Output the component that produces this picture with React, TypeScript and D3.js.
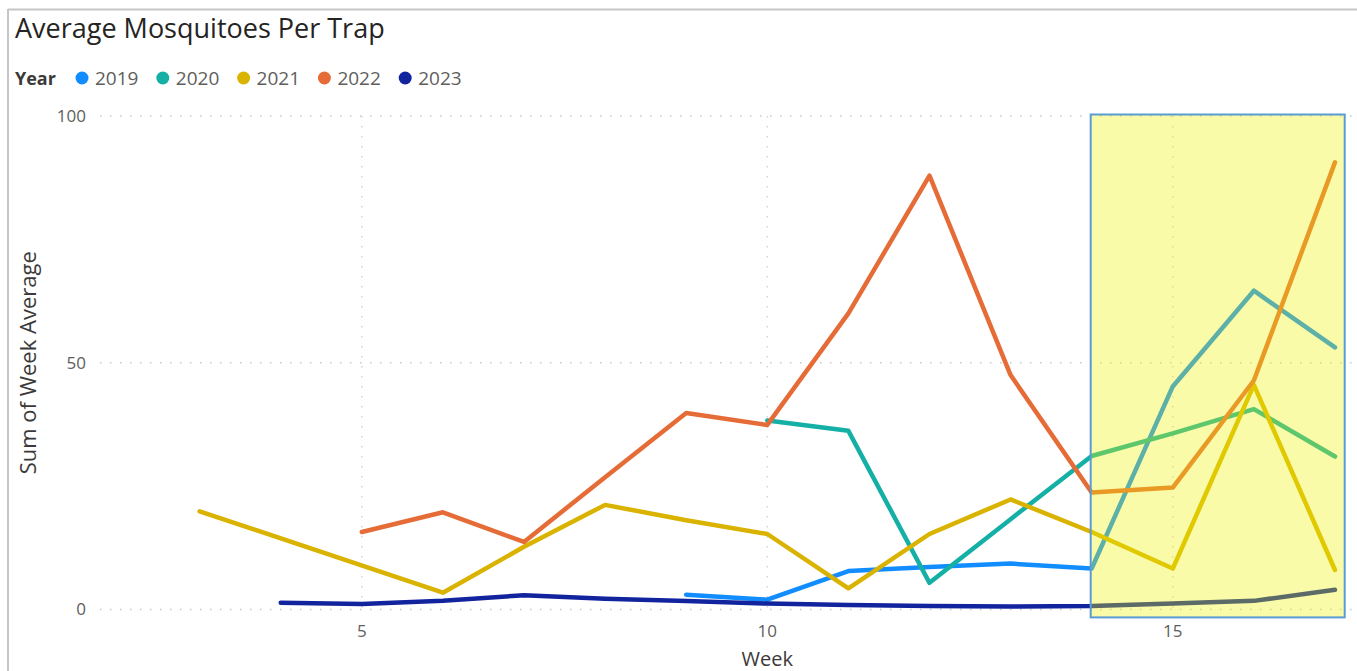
import React, { useEffect, useRef } from 'react';
import * as d3 from 'd3';

const years = ['2019', '2020', '2021', '2022', '2023'];
const colors = ['#118DFF', '#15B0A5', '#D9B300', '#E66C37', '#12239E'];

const weeks2019 = [9, 10, 11, 12, 13, 14, 15, 16, 17];
const values2019 = [3.0, 2.0, 7.8, 8.6, 9.3, 8.3, 45.2, 64.6, 53.1];

const weeks2020 = [10, 11, 12, 13, 14, 15, 16, 17];
const values2020 = [38.3, 36.2, 5.4, 18.3, 31.1, 35.7, 40.6, 31.0];

const weeks2021 = [3, 6, 7, 8, 9, 10, 11, 12, 13, 14, 15, 16, 17];
const values2021 = [19.9, 3.4, 12.7, 21.2, 18.1, 15.3, 4.3, 15.3, 22.3, 15.7, 8.3, 45.5, 8.0];

const weeks2022 = [5, 6, 7, 8, 9, 10, 11, 12, 13, 14, 15, 16, 17];
const values2022 = [15.7, 19.7, 13.7, 26.8, 39.8, 37.4, 60.0, 87.9, 47.5, 23.7, 24.7, 46.4, 90.6];

const weeks2023 = [4, 5, 6, 7, 8, 9, 10, 11, 12, 13, 14, 15, 16, 17];
const values2023 = [1.35, 1.1, 1.75, 2.9, 2.2, 1.7, 1.2, 0.9, 0.7, 0.6, 0.7, 1.2, 1.75, 4.0];

const xTicks = [5, 10, 15];
const yTicks = [0, 50, 100];

// highlighted week range (yellow box)
const highlightFrom = 14;
const highlightTo = 17.12;

const App: React.FC = () => {
  const ref = useRef<SVGSVGElement>(null);

  useEffect(() => {
    if (!ref.current) return;
    const width = 1357;
    const height = 671;
    const font = '"Open Sans", "Noto Sans", sans-serif';

    const svg = d3.select(ref.current);
    svg.selectAll('*').remove();

    svg.append('rect').attr('width', width).attr('height', height).attr('fill', '#fff');

    // visual border
    svg.append('line').attr('x1', 8).attr('x2', width).attr('y1', 9.5).attr('y2', 9.5)
      .attr('stroke', '#c8c6c4').attr('stroke-width', 2);
    svg.append('line').attr('x1', 8).attr('x2', 8).attr('y1', 9).attr('y2', height)
      .attr('stroke', '#c8c6c4').attr('stroke-width', 2);

    svg.append('text')
      .attr('x', 15).attr('y', 38)
      .attr('font-family', font).attr('font-size', 27)
      .attr('fill', '#252423')
      .text('Average Mosquitoes Per Trap');

    // legend
    svg.append('text')
      .attr('x', 15).attr('y', 85)
      .attr('font-family', font).attr('font-size', 18).attr('font-weight', 'bold')
      .attr('fill', '#3b3a39')
      .text('Year');
    const legend = svg.append('g');
    years.forEach((yr, i) => {
      const lx = 82 + i * 80.8;
      legend.append('circle').attr('cx', lx).attr('cy', 78).attr('r', 6.5).attr('fill', colors[i]);
      legend.append('text')
        .attr('x', lx + 13).attr('y', 85)
        .attr('font-family', font).attr('font-size', 19)
        .attr('fill', '#605e5c')
        .text(yr);
    });

    const x = d3.scaleLinear().domain([1.87, 17.21]).range([108, 1352]);
    const y = d3.scaleLinear().domain([0, 100]).range([609.5, 116]);

    // gridlines
    const grid = svg.append('g');
    yTicks.forEach(t => {
      grid.append('line')
        .attr('x1', 100).attr('x2', 1352).attr('y1', y(t)).attr('y2', y(t))
        .attr('stroke', '#c8c8c8').attr('stroke-width', 1.5).attr('stroke-dasharray', '1.5,8.5');
    });
    xTicks.forEach(t => {
      grid.append('line')
        .attr('x1', x(t)).attr('x2', x(t)).attr('y1', y(100)).attr('y2', y(0))
        .attr('stroke', '#d4d4d4').attr('stroke-width', 1.5).attr('stroke-dasharray', '1.5,8.5');
    });

    // axis labels
    svg.append('g').selectAll('text').data(yTicks).enter().append('text')
      .attr('x', 86).attr('y', d => y(d)).attr('dy', '0.35em')
      .attr('text-anchor', 'end')
      .attr('font-family', font).attr('font-size', 17)
      .attr('fill', '#605e5c')
      .text(d => d);
    svg.append('g').selectAll('text').data(xTicks).enter().append('text')
      .attr('x', d => x(d)).attr('y', 637)
      .attr('text-anchor', 'middle')
      .attr('font-family', font).attr('font-size', 17)
      .attr('fill', '#605e5c')
      .text(d => d);

    svg.append('text')
      .attr('x', x(10)).attr('y', 666)
      .attr('text-anchor', 'middle')
      .attr('font-family', font).attr('font-size', 20)
      .attr('fill', '#3b3a39')
      .text('Week');
    svg.append('text')
      .attr('transform', `translate(36, ${y(50)}) rotate(-90)`)
      .attr('text-anchor', 'middle')
      .attr('font-family', font).attr('font-size', 22)
      .attr('fill', '#3b3a39')
      .text('Sum of Week Average');

    // series
    const series = [
      { weeks: weeks2019, values: values2019 },
      { weeks: weeks2020, values: values2020 },
      { weeks: weeks2021, values: values2021 },
      { weeks: weeks2022, values: values2022 },
      { weeks: weeks2023, values: values2023 },
    ];
    const line = d3.line<[number, number]>()
      .x(d => x(d[0]))
      .y(d => y(d[1]));

    series.forEach((s, i) => {
      const pts = s.weeks.map((w, j) => [w, s.values[j]] as [number, number]);
      svg.append('path')
        .datum(pts)
        .attr('d', line)
        .attr('fill', 'none')
        .attr('stroke', colors[i])
        .attr('stroke-width', 4.5)
        .attr('stroke-linejoin', 'round')
        .attr('stroke-linecap', 'round');
    });

    // yellow highlight box over the last weeks
    svg.append('rect')
      .attr('x', x(highlightFrom) - 1)
      .attr('y', y(100) - 1.5)
      .attr('width', x(highlightTo) - x(highlightFrom) + 1)
      .attr('height', y(-1.6) - y(100) + 1.5)
      .attr('fill', '#EDF300')
      .attr('fill-opacity', 0.34)
      .attr('stroke', '#5b9bd5')
      .attr('stroke-width', 2);
  }, []);

  return (
    <svg
      ref={ref}
      width={1357}
      height={671}
      style={{ position: 'absolute', left: 0, top: 0 }}
    />
  );
};

export default App;
